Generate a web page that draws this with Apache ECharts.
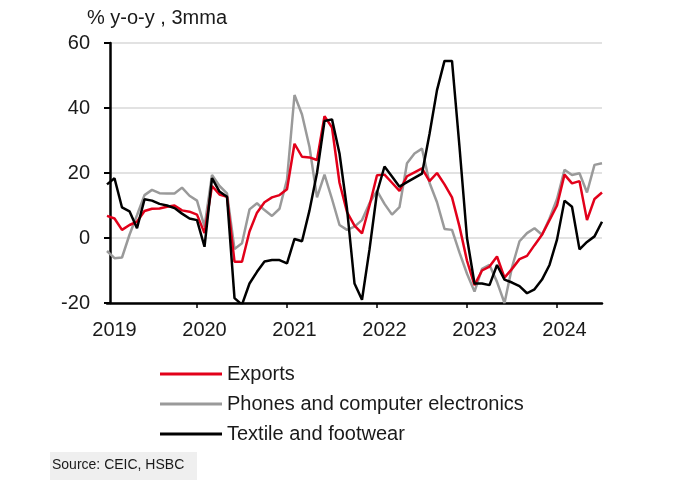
<!DOCTYPE html>
<html>
<head>
<meta charset="utf-8">
<script src="https://cdn.jsdelivr.net/npm/echarts@6/dist/echarts.min.js"></script>
<style>
html,body{margin:0;padding:0;background:#fff;}
#c{width:680px;height:487px;}
</style>
</head>
<body>
<div id="c"></div>
<script>
// Months Jan 2019 .. Jul 2024
var years = ['2019','2020','2021','2022','2023','2024'];
var months = ['01','02','03','04','05','06','07','08','09','10','11','12'];
var categories = [];
years.forEach(function(y){ months.forEach(function(m){ if (!(y==='2024' && +m>7)) categories.push(y+'-'+m); }); });

var exportsData = [6.8,6,2.5,4,5,8.3,9,9.1,9.6,10,8.5,8.1,
  7.2,1.5,16,13.4,12.7,-7.3,-7.3,2,7.8,11,12.5,13.2,
  15,29,25,24.8,24,37.5,34,17,8,3.8,1.4,10,
  19.3,19.5,17,14.5,19,20.2,21.4,17.5,20,16.5,12.5,3.5,
  -7,-14.5,-10,-8.8,-5.7,-12.2,-9.5,-6.5,-5.5,-2.2,1,5.5,
  10,19.5,16.8,17.5,5.5,12,14];
var phonesData = [-4,-6.2,-6,1,7,13.2,14.8,13.8,13.7,13.7,15.5,13,
  11.5,3.5,19.4,16,13.7,-3.4,-1.6,8.8,10.7,8.6,6.8,9,
  18,44,38,28,12.5,19.5,12,4,2.5,3.5,5.5,10.7,
  14.5,10.5,7.2,9.5,23,26,27.5,17,11,2.8,2.5,-4.5,
  -11,-16.5,-9.5,-8.3,-13.5,-20,-9,-1,1.5,3,1,6,
  12,21,19.4,19.9,14,22.5,23];
var textileData = [16.5,18.4,9.4,8.2,3,11.9,11.5,10.5,10,9.2,7.5,6,
  5.5,-2.7,18.4,14.3,12.7,-18.5,-20.5,-14,-10.4,-7.2,-6.8,-6.8,
  -7.8,-0.3,-1,8.5,20,36,36.5,26,9,-14,-19,-3.5,
  14,22,18.9,15.8,17.2,18.5,19.8,32,45.5,54.5,54.5,28,
  0,-14,-14,-14.5,-8.3,-12.8,-13.7,-14.8,-17,-15.8,-12.8,-8.3,
  -0.5,11.5,9.6,-3.5,-1.2,0.5,5];
var yTicks = {min:-20, max:60, interval:20};
var names = ['Exports','Phones and computer electronics','Textile and footwear'];

var FONT = 'Liberation Sans, Arial, sans-serif';
var chart = echarts.init(document.getElementById('c'), null, {renderer:'canvas'});
chart.setOption({
  animation:false,
  backgroundColor:'#fff',
  textStyle:{fontFamily:FONT},
  grid:{left:107, right:78, top:43, bottom:184, containLabel:false},
  xAxis:[{
    type:'category', data:categories, boundaryGap:false,
    axisLine:{show:false}, axisTick:{show:false},
    axisLabel:{
      interval:function(i){ return i%12===1; },
      formatter:function(v){ return v.slice(0,4); },
      fontSize:20, color:'#1a1a1a', margin:17, fontFamily:FONT
    },
    splitLine:{show:false}
  },{
    type:'category', data:categories, boundaryGap:false, position:'bottom',
    axisLine:{show:true, onZero:true, lineStyle:{color:'#000', width:2.5}},
    axisTick:{show:true, interval:function(i){ return i%12===0 && i>0; }, length:5, lineStyle:{color:'#000', width:1.5}},
    axisLabel:{show:false},
    splitLine:{show:false}
  }],
  yAxis:{
    type:'value', min:yTicks.min, max:yTicks.max, interval:yTicks.interval,
    offset:-3,
    axisLine:{show:true, lineStyle:{color:'#000', width:2.5}},
    axisTick:{show:true, length:6, lineStyle:{color:'#000', width:2}},
    axisLabel:{fontSize:20, color:'#1a1a1a', margin:20, fontFamily:FONT},
    splitLine:{show:true, lineStyle:{color:'#d9d9d9', width:1.5}}
  },
  legend:{
    data:names, orient:'vertical', left:155, top:358,
    icon:'rect', itemWidth:62, itemHeight:3, itemGap:8,
    textStyle:{fontSize:20, color:'#1a1a1a', lineHeight:22, fontFamily:FONT}
  },
  series:[
    {name:names[1], type:'line', data:phonesData, symbol:'none', lineStyle:{color:'#9a9a9a', width:2.5}, itemStyle:{color:'#9a9a9a'}},
    {name:names[0], type:'line', data:exportsData, symbol:'none', lineStyle:{color:'#e2001a', width:2.5}, itemStyle:{color:'#e2001a'}},
    {name:names[2], type:'line', data:textileData, symbol:'none', lineStyle:{color:'#000', width:2.5}, itemStyle:{color:'#000'}}
  ],
  graphic:[
    {type:'text', left:87, top:8, style:{text:'% y-o-y , 3mma', fontSize:20, fill:'#1a1a1a', fontFamily:FONT}},
    {type:'rect', shape:{x:50, y:452, width:147, height:28}, style:{fill:'#efefef'}, z:-1},
    {type:'text', left:52, top:458, style:{text:'Source: CEIC, HSBC', fontSize:14, fill:'#1a1a1a', fontFamily:FONT}}
  ]
});
</script>
</body>
</html>
